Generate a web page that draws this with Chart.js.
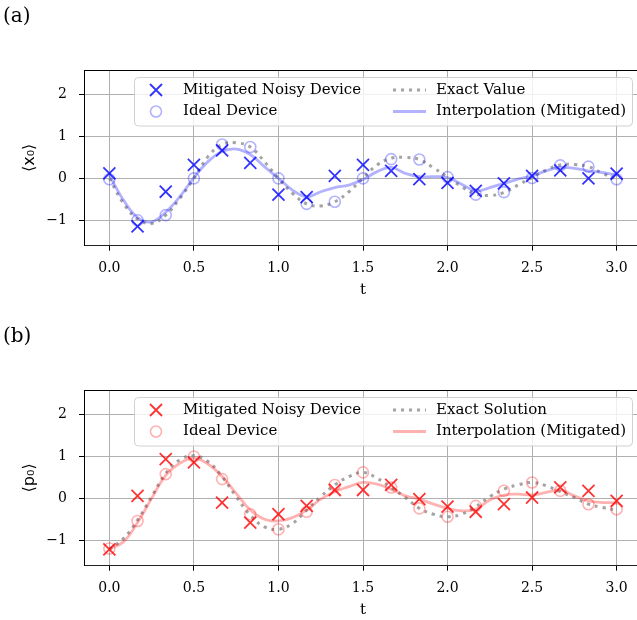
<!DOCTYPE html>
<html>
<head>
<meta charset="utf-8">
<script src="https://cdn.jsdelivr.net/npm/chart.js@4.4.1/dist/chart.umd.min.js"></script>
<style>
  html, body { margin: 0; padding: 0; background: #fff; overflow: hidden; width: 637px; height: 620px; }
  canvas { position: absolute; left: 0; }
</style>
</head>
<body>
<canvas id="chartA" width="660" height="310" style="top:0"></canvas>
<canvas id="chartB" width="660" height="310" style="top:320px"></canvas>
<script>
// sample times of the device runs
const tSamples = [0, 0.1667, 0.3333, 0.5, 0.6667, 0.8333, 1.0, 1.1667, 1.3333, 1.5,
  1.6667, 1.8333, 2.0, 2.1667, 2.3333, 2.5, 2.6667, 2.8333, 3.0];
// times where the smooth curves were read
const tCurve = [0, 0.0833, 0.1667, 0.25, 0.3333, 0.4167, 0.5, 0.5833, 0.6667, 0.75,
  0.8333, 0.9167, 1.0, 1.0833, 1.1667, 1.25, 1.3333, 1.4167, 1.5, 1.5833, 1.6667,
  1.75, 1.8333, 1.9167, 2.0, 2.0833, 2.1667, 2.25, 2.3333, 2.4167, 2.5, 2.5833,
  2.6667, 2.75, 2.8333, 2.9167, 3.0];

const xTickVals = [0, 0.5, 1.0, 1.5, 2.0, 2.5, 3.0];
const yTickVals = [-1, 0, 1, 2];

// panel (a): <x0>
const noisyX = [0.12, -1.15, -0.32, 0.32, 0.67, 0.37, -0.39, -0.45, 0.06, 0.32,
  0.18, -0.02, -0.11, -0.30, -0.12, 0.06, 0.19, 0.0, 0.11];
const idealX = [-0.02, -1.0, -0.88, 0.0, 0.81, 0.75, 0.0, -0.61, -0.56, 0.0,
  0.46, 0.45, 0.03, -0.39, -0.33, 0.01, 0.31, 0.28, -0.02];
const exactX = [0, -0.6, -0.97, -1.08, -0.88, -0.48, 0, 0.52, 0.81, 0.85,
  0.75, 0.40, 0, -0.36, -0.61, -0.66, -0.56, -0.32, 0.01, 0.32, 0.48,
  0.50, 0.45, 0.25, 0.03, -0.2, -0.37, -0.41, -0.34, -0.16, 0.02, 0.2,
  0.32, 0.33, 0.28, 0.12, -0.02];
const interpX = [0.08, -0.52, -0.94, -1.04, -0.81, -0.44, 0.02, 0.40, 0.64, 0.70,
  0.57, 0.28, 0.0, -0.28, -0.44, -0.32, -0.22, -0.16, -0.03, 0.16, 0.26,
  0.12, 0.04, 0.04, 0.02, -0.14, -0.30, -0.22, -0.12, -0.02, 0.06, 0.18,
  0.26, 0.24, 0.18, 0.14, 0.08];

// panel (b): <p0>
const noisyP = [-1.22, 0.06, 0.94, 0.86, -0.10, -0.58, -0.38, -0.18, 0.20, 0.20,
  0.32, -0.02, -0.20, -0.32, -0.14, 0.02, 0.26, 0.18, -0.06];
const idealP = [-1.2, -0.54, 0.58, 1.0, 0.46, -0.38, -0.74, -0.32, 0.32, 0.62,
  0.26, -0.24, -0.44, -0.18, 0.18, 0.38, 0.18, -0.14, -0.26];
const exactP = [-1.22, -0.96, -0.52, 0.04, 0.6, 0.92, 1.02, 0.88, 0.52, 0.04,
  -0.4, -0.68, -0.74, -0.6, -0.28, 0.04, 0.32, 0.52, 0.62, 0.48, 0.26,
  0.02, -0.24, -0.38, -0.44, -0.38, -0.2, 0.04, 0.22, 0.32, 0.38, 0.3,
  0.16, 0.02, -0.14, -0.22, -0.28];
const interpP = [-1.2, -1.04, -0.58, 0.0, 0.55, 0.84, 0.96, 0.82, 0.52, 0.12,
  -0.28, -0.5, -0.54, -0.46, -0.28, -0.02, 0.16, 0.28, 0.38, 0.34, 0.22,
  0.06, -0.02, -0.14, -0.24, -0.3, -0.26, -0.04, 0.08, 0.1, 0.08, 0.14,
  0.2, 0.06, -0.06, -0.1, -0.1];

const SERIF = '"DejaVu Serif", serif';
const GRAY_DOT = 'rgba(128,128,128,0.72)';

function pts(ts, ys) {
  return ts.map((t, i) => ({ x: t, y: ys[i] }));
}

// spines, panel tag and the in-plot legend
const framePlugin = {
  id: 'frame',
  afterDraw(chart, args, opts) {
    const { ctx, chartArea: a } = chart;
    ctx.save();
    ctx.strokeStyle = '#000';
    ctx.lineWidth = 1;
    ctx.beginPath();
    ctx.moveTo(a.left + 0.5, a.bottom);
    ctx.lineTo(a.left + 0.5, a.top + 0.5);
    ctx.lineTo(a.right, a.top + 0.5);
    ctx.stroke();

    ctx.fillStyle = '#000';
    ctx.font = '20px ' + SERIF;
    ctx.textBaseline = 'middle';
    ctx.textAlign = 'left';
    ctx.fillText(opts.tag, 3, 17);

    // legend box
    const bx = 134.5, by = 77.5, bw = 498, bh = 48.5, r = 4;
    ctx.beginPath();
    ctx.roundRect(bx, by, bw, bh, r);
    ctx.fillStyle = 'rgba(255,255,255,0.8)';
    ctx.fill();
    ctx.strokeStyle = 'rgba(204,204,204,0.9)';
    ctx.stroke();

    const row1 = 90, row2 = 111.5;
    ctx.font = '15px ' + SERIF;
    ctx.fillStyle = '#000';
    ctx.fillText(opts.labels[0], 183, row1);
    ctx.fillText(opts.labels[1], 183, row2);
    ctx.fillText(opts.labels[2], 436, row1);
    ctx.fillText(opts.labels[3], 436, row2);

    // markers
    ctx.lineWidth = 1.8;
    ctx.strokeStyle = opts.strong;
    ctx.beginPath();
    ctx.moveTo(150, row1 - 6); ctx.lineTo(162, row1 + 6);
    ctx.moveTo(162, row1 - 6); ctx.lineTo(150, row1 + 6);
    ctx.stroke();
    ctx.strokeStyle = opts.light;
    ctx.lineWidth = 1.6;
    ctx.beginPath();
    ctx.arc(156, row2, 5.5, 0, Math.PI * 2);
    ctx.stroke();

    ctx.strokeStyle = GRAY_DOT;
    ctx.lineWidth = 3;
    ctx.setLineDash([3, 5]);
    ctx.beginPath();
    ctx.moveTo(393, row1); ctx.lineTo(426, row1);
    ctx.stroke();
    ctx.setLineDash([]);
    ctx.strokeStyle = opts.light;
    ctx.lineWidth = 2.8;
    ctx.beginPath();
    ctx.moveTo(393, row2); ctx.lineTo(426, row2);
    ctx.stroke();
    ctx.restore();
  }
};

function makeChart(id, tag, yTitle, labels, strong, light, noisy, ideal, exact, interp) {
  return new Chart(document.getElementById(id), {
    type: 'scatter',
    data: {
      datasets: [
        { label: labels[0], data: pts(tSamples, noisy), pointStyle: 'crossRot',
          pointRadius: 8.5, borderColor: strong, borderWidth: 1.8, backgroundColor: strong },
        { label: labels[1], data: pts(tSamples, ideal), pointStyle: 'circle',
          pointRadius: 5.5, borderColor: light, borderWidth: 1.6, backgroundColor: 'transparent' },
        { label: labels[3], data: pts(tCurve, interp), showLine: true, pointRadius: 0,
          borderColor: light, borderWidth: 2.8, tension: 0.4 },
        { label: labels[2], data: pts(tCurve, exact), showLine: true, pointRadius: 0,
          borderColor: GRAY_DOT, borderWidth: 3, borderDash: [3, 5], tension: 0.4 }
      ]
    },
    options: {
      responsive: false,
      animation: false,
      devicePixelRatio: 1,
      layout: { padding: { left: 0, top: 70, right: 18, bottom: 4.3 } },
      plugins: {
        legend: { display: false },
        tooltip: { enabled: false },
        frame: { tag, labels, strong, light }
      },
      scales: {
        x: {
          type: 'linear', min: -0.15, max: 3.15,
          afterBuildTicks: s => { s.ticks = xTickVals.map(v => ({ value: v })); },
          afterFit: s => { s.height = 60; },
          grid: { color: '#b0b0b0', lineWidth: 1, tickColor: '#000', tickLength: 5 },
          border: { color: '#222', width: 1 },
          ticks: { color: '#000', padding: 9, font: { family: SERIF, size: 14 },
            callback: v => v.toFixed(1) },
          title: { display: true, text: 't', color: '#000',
            font: { family: SERIF, size: 15 }, padding: { top: 0, bottom: 7 } }
        },
        y: {
          type: 'linear', min: -1.61, max: 2.59,
          afterBuildTicks: s => { s.ticks = yTickVals.map(v => ({ value: v })); },
          afterFit: s => { s.width = 84; },
          grid: { color: '#b0b0b0', lineWidth: 1, tickColor: '#000', tickLength: 5 },
          border: { color: '#000', width: 1 },
          ticks: { color: '#000', padding: 12, font: { family: SERIF, size: 14 },
            callback: v => (v < 0 ? '\u2212' + Math.abs(v) : String(v)) },
          title: { display: true, text: yTitle, color: '#000',
            font: { family: '"DejaVu Sans", sans-serif', size: 16 }, padding: { top: 20, bottom: 0 } }
        }
      }
    },
    plugins: [framePlugin]
  });
}

makeChart('chartA', '(a)', '\u27E8x\u2080\u27E9',
  ['Mitigated Noisy Device', 'Ideal Device', 'Exact Value', 'Interpolation (Mitigated)'],
  'rgba(0,0,255,0.8)', 'rgba(0,0,255,0.3)', noisyX, idealX, exactX, interpX);

makeChart('chartB', '(b)', '\u27E8p\u2080\u27E9',
  ['Mitigated Noisy Device', 'Ideal Device', 'Exact Solution', 'Interpolation (Mitigated)'],
  'rgba(255,0,0,0.8)', 'rgba(255,0,0,0.3)', noisyP, idealP, exactP, interpP);
</script>
</body>
</html>
